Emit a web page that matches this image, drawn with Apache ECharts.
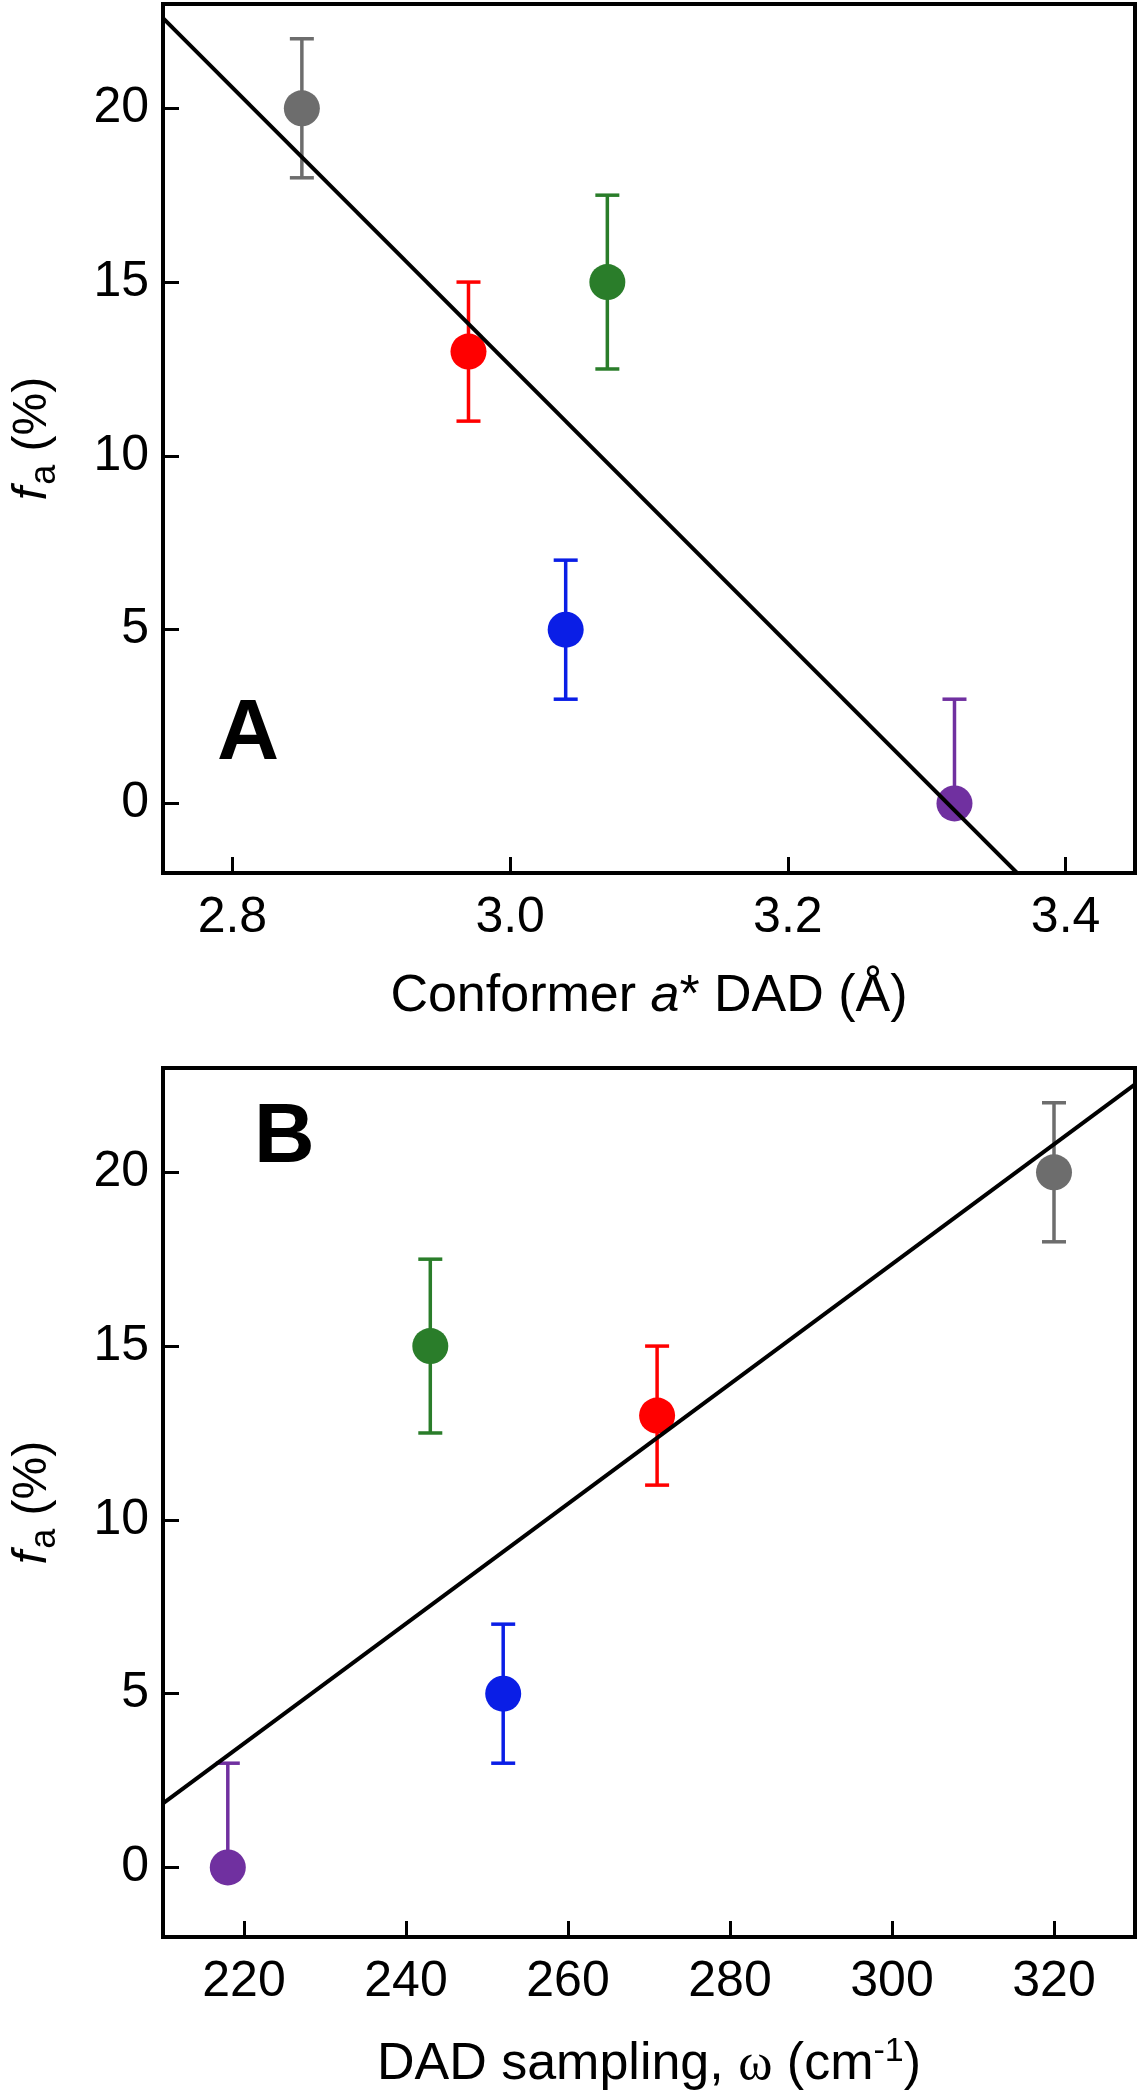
<!DOCTYPE html>
<html><head><meta charset="utf-8">
<script src="https://cdn.jsdelivr.net/npm/echarts@6/dist/echarts.min.js"></script>
<style>html,body{margin:0;padding:0;background:#fff}#c{width:1140px;height:2100px}</style>
</head><body><div id="c"></div>
<script>
// ---- data ----
const pointColors = ['#6d6d6d', '#ff0000', '#0a1ee6', '#2a7d2a', '#7030a0']; // grey, red, blue, green, purple
const fa = [20, 13, 5, 15, 0];                 // f_a (%)
const errLow = [2, 2, 2, 2.5, 0];              // lower error
const errHigh = [2, 2, 2, 2.5, 3];             // upper error
const dadA = [2.85, 2.97, 3.04, 3.07, 3.32];   // Conformer a* DAD (Å)
const omegaB = [320, 271, 252, 243, 218];      // DAD sampling ω (cm-1)
const xTicksA = [2.8, 3.0, 3.2, 3.4];
const xTicksB = [220, 240, 260, 280, 300, 320];
const yTicks = [0, 5, 10, 15, 20];
const xRangeA = [2.75, 3.45];
const xRangeB = [210, 330];
const yRange = [-2, 23];

// ---- helpers ----
const FONT = 'Liberation Sans, Arial, sans-serif';
function fit(xs, ys) {
  const n = xs.length;
  const mx = xs.reduce((a, b) => a + b, 0) / n, my = ys.reduce((a, b) => a + b, 0) / n;
  let sxy = 0, sxx = 0;
  for (let i = 0; i < n; i++) { sxy += (xs[i] - mx) * (ys[i] - my); sxx += (xs[i] - mx) ** 2; }
  const b = sxy / sxx, a = my - b * mx;
  return x => a + b * x;
}
function errRender(params, api) {
  const x = api.value(0), y = api.value(1), lo = api.value(2), hi = api.value(3), ci = api.value(4);
  const pLo = api.coord([x, lo]), pHi = api.coord([x, hi]);
  const hw = 12;
  const style = { stroke: pointColors[ci], lineWidth: 3.5 };
  const ch = [
    { type: 'line', shape: { x1: pLo[0], y1: pLo[1], x2: pHi[0], y2: pHi[1] }, style },
    { type: 'line', shape: { x1: pHi[0] - hw, y1: pHi[1], x2: pHi[0] + hw, y2: pHi[1] }, style }
  ];
  if (lo < y) ch.push({ type: 'line', shape: { x1: pLo[0] - hw, y1: pLo[1], x2: pLo[0] + hw, y2: pLo[1] }, style });
  return { type: 'group', children: ch };
}
function panelSeries(xs, idx, range) {
  const f = fit(xs, fa);
  return [
    {
      type: 'custom', xAxisIndex: idx, yAxisIndex: idx, renderItem: errRender, z: 2,
      encode: { x: 0, y: [1, 2, 3] },
      data: xs.map((x, i) => [x, fa[i], fa[i] - errLow[i], fa[i] + errHigh[i], i])
    },
    {
      type: 'scatter', xAxisIndex: idx, yAxisIndex: idx, symbol: 'circle', symbolSize: 36, z: 3,
      data: xs.map((x, i) => ({ value: [x, fa[i]], itemStyle: { color: pointColors[i], opacity: 1 } }))
    },
    {
      type: 'line', xAxisIndex: idx, yAxisIndex: idx, symbol: 'none', clip: true, z: 4,
      lineStyle: { color: '#000', width: 4 },
      data: [[range[0], f(range[0])], [range[1], f(range[1])]]
    }
  ];
}
function xAxis(idx, range, ticks, fmt, name) {
  return {
    type: 'value', gridIndex: idx, min: range[0], max: range[1],
    axisLine: { show: true, onZero: false, lineStyle: { color: '#000', width: 4 } },
    axisTick: { show: true, inside: true, length: 16, lineStyle: { color: '#000', width: 3 }, customValues: ticks },
    axisLabel: { show: true, customValues: ticks, formatter: fmt, margin: 20, color: '#000', fontSize: 50, fontFamily: FONT },
    splitLine: { show: false },
    name: name.text, nameLocation: 'middle', nameGap: 98,
    nameTextStyle: { color: '#000', fontSize: 52, fontFamily: FONT, rich: name.rich }
  };
}
function yAxis(idx) {
  return {
    type: 'value', gridIndex: idx, min: yRange[0], max: yRange[1],
    axisLine: { show: true, onZero: false, lineStyle: { color: '#000', width: 4 } },
    axisTick: { show: true, inside: true, length: 16, lineStyle: { color: '#000', width: 3 }, customValues: yTicks },
    axisLabel: { show: true, customValues: yTicks, margin: 14, color: '#000', fontSize: 50, fontFamily: FONT },
    splitLine: { show: false },
    name: '{i|f}{s|a} {n|(%)}', nameLocation: 'middle', nameRotate: 90, nameGap: 100,
    nameTextStyle: {
      color: '#000', fontSize: 48, fontFamily: FONT,
      rich: {
        i: { fontSize: 48, fontStyle: 'italic', fontFamily: FONT, lineHeight: 60, verticalAlign: 'middle' },
        s: { fontSize: 36, fontFamily: FONT, lineHeight: 60, verticalAlign: 'bottom', padding: [0, 0, 0, 2] },
        n: { fontSize: 48, fontFamily: FONT, lineHeight: 60, verticalAlign: 'middle' }
      }
    }
  };
}

const nameA = {
  text: '{n|Conformer }{i|a}{n|* DAD (Å)}',
  rich: {
    n: { fontSize: 52, fontFamily: FONT, color: '#000' },
    i: { fontSize: 52, fontFamily: FONT, fontStyle: 'italic', color: '#000' }
  }
};
const nameB = {
  text: '{n|DAD sampling, }{w|ω}{n| (cm}{p|-1}{n|)}',
  rich: {
    n: { fontSize: 52, fontFamily: FONT, color: '#000', lineHeight: 60, verticalAlign: 'middle' },
    w: { fontSize: 52, fontFamily: 'Liberation Serif, Times New Roman, serif', color: '#000', lineHeight: 60, verticalAlign: 'middle' },
    p: { fontSize: 34, fontFamily: FONT, color: '#000', lineHeight: 60, verticalAlign: 'top' }
  }
};

const chart = echarts.init(document.getElementById('c'), null, { renderer: 'canvas' });
chart.setOption({
  animation: false,
  backgroundColor: '#fff',
  grid: [
    { left: 163, top: 4, width: 972, height: 869, show: true, borderColor: '#000', borderWidth: 4, backgroundColor: 'transparent' },
    { left: 163, top: 1068, width: 972, height: 869, show: true, borderColor: '#000', borderWidth: 4, backgroundColor: 'transparent' }
  ],
  xAxis: [
    xAxis(0, xRangeA, xTicksA, v => v.toFixed(1), nameA),
    xAxis(1, xRangeB, xTicksB, v => String(v), nameB)
  ],
  yAxis: [yAxis(0), yAxis(1)],
  graphic: [
    { type: 'text', left: 217, top: 692, style: { text: 'A', font: 'bold 86px ' + FONT, fill: '#000' } },
    { type: 'text', left: 254, top: 1097, style: { text: 'B', font: 'bold 84px ' + FONT, fill: '#000' } }
  ],
  series: [...panelSeries(dadA, 0, xRangeA), ...panelSeries(omegaB, 1, xRangeB)]
});
</script></body></html>
